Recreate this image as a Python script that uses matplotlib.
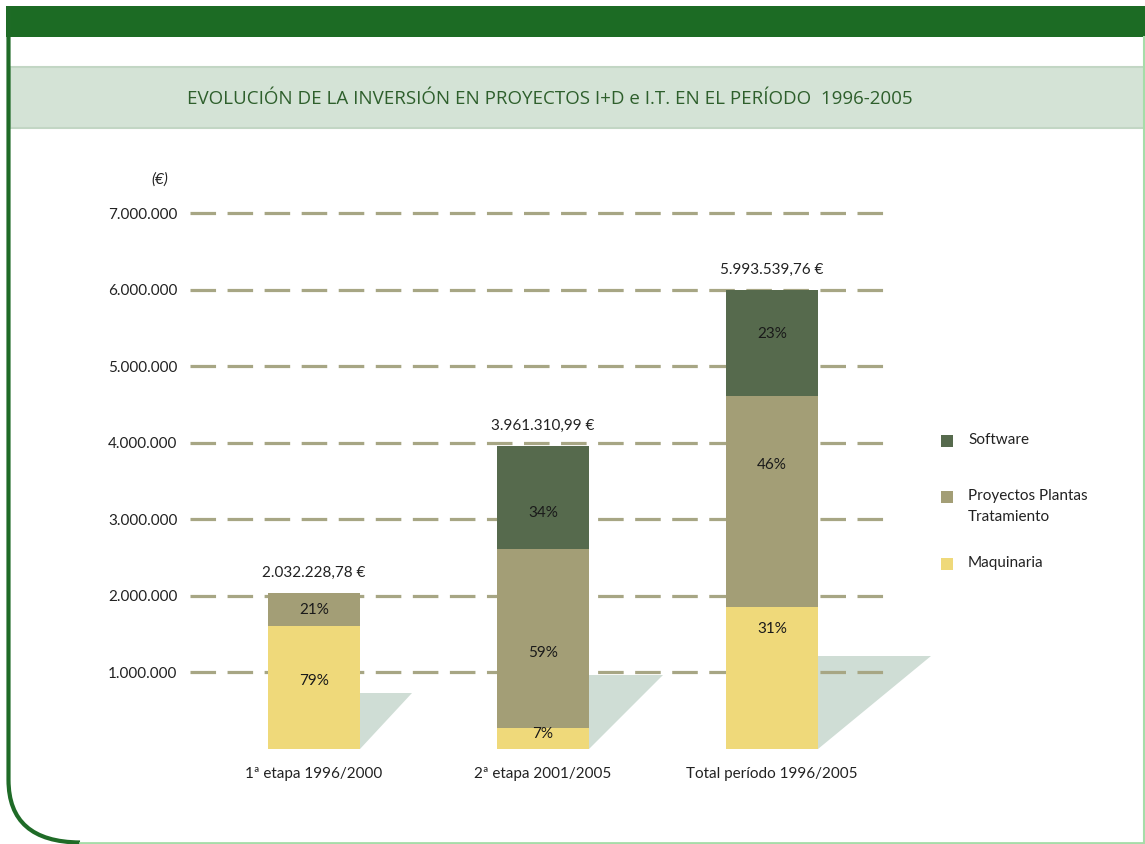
import matplotlib.pyplot as plt
import matplotlib.patches as mpatches
from matplotlib.path import Path
import numpy as np

plt.rcParams["font.family"] = ["Lato", "DejaVu Sans"]

# data
stages = ["1ª etapa 1996/2000", "2ª etapa 2001/2005", "Total período 1996/2005"]
totals = [2032228.78, 3961310.99, 5993539.76]
series = ["Maquinaria", "Proyectos Plantas\nTratamiento", "Software"]
pct_maquinaria = [79, 7, 31]
pct_proyectos = [21, 59, 46]
pct_software = [0, 34, 23]
yticks = [1000000, 2000000, 3000000, 4000000, 5000000, 6000000, 7000000]

colors = ["#efd97a", "#a39e76", "#566a4d"]
# where the % text sits inside each segment (fraction of segment height)
label_pos = [[0.55, 0.49, 0.5], [0.7, 0.42, 0.35], [0.84, 0.67, 0.58]]
# shadow triangle sizes (dx in bar units, top in euros)
shadow = [(0.227, 730000), (0.323, 965000), (0.493, 1215000)]

W, H = 1145, 844
fig = plt.figure(figsize=(W / 100, H / 100), dpi=100)

# frame drawn in pixel coordinates
bg = fig.add_axes([0, 0, 1, 1])
bg.set_xlim(0, W)
bg.set_ylim(H, 0)
bg.axis("off")
bg.add_patch(mpatches.Rectangle((6, 6), W - 6, 31, color="#1c6b24", lw=0))
bg.add_patch(mpatches.Rectangle((10, 67), W - 10, 61, facecolor="#d4e3d6",
                                edgecolor="#c2d6c4", lw=1.5))
verts = [(8.5, 6), (8.5, 780), (8.5, 842), (80, 842.5)]
codes = [Path.MOVETO, Path.LINETO, Path.CURVE3, Path.CURVE3]
bg.add_patch(mpatches.PathPatch(Path(verts, codes), fill=False,
                                edgecolor="#1f6b27", lw=3))
bg.plot([80, W], [842.5, 842.5], color="#a6dca8", lw=2)
bg.plot([W - 1, W - 1], [37, 842], color="#a6dca8", lw=1.5)
bg.text(W / 2 - 23, 99, "EVOLUCIÓN DE LA INVERSIÓN EN PROYECTOS I+D e I.T. EN EL PERÍODO  1996-2005",
        ha="center", va="center", fontsize=13.5, color="#2e5f2c",
        family=["Open Sans", "DejaVu Sans"])

# main chart axes
px_per_m = (749 - 213) / 7.0
ytop = 7500000
ax = fig.add_axes([190 / W, (H - 749) / H, (940 - 190) / W, ytop / 1e6 * px_per_m / H])
xmin = (190 - 314) / 229.0
xgrid = (888 - 314) / 229.0
xmax = (940 - 314) / 229.0
ax.set_xlim(xmin, xmax)
ax.set_ylim(0, ytop)
for s in ax.spines.values():
    s.set_visible(False)
ax.set_xticks([])
ax.set_yticks(yticks)
ax.set_yticklabels(["{:,}".format(v).replace(",", ".") for v in yticks])
ax.tick_params(axis="y", length=0, pad=9, labelsize=11, labelcolor="#222222")

x = np.arange(len(stages))
width = 0.40

# shadows
for i in range(len(stages)):
    xr = x[i] + width / 2
    dx, top = shadow[i]
    ax.add_patch(mpatches.Polygon([(xr, 0), (xr, top), (xr + dx, top)],
                                  closed=True, color="#cfddd5", lw=0, zorder=1))

# gridlines
for v in yticks:
    ax.plot([xmin, xgrid], [v, v], color="#a7a684", lw=2.3,
            dashes=(8, 3.6), zorder=2, solid_capstyle="butt")

# stacked bars
pcts = [pct_maquinaria, pct_proyectos, pct_software]
bottom = np.zeros(len(stages))
for k in range(3):
    vals = np.array(totals) * np.array(pcts[k]) / 100.0
    ax.bar(x, vals, width, bottom=bottom, color=colors[k], zorder=3)
    for i in range(len(stages)):
        if pcts[k][i] > 0:
            ax.text(x[i], bottom[i] + vals[i] * label_pos[i][k], "{}%".format(pcts[k][i]),
                    ha="center", va="center", fontsize=11, color="#1a1a1a", zorder=4)
    bottom += vals

for i in range(len(stages)):
    lab = "{:,.2f}".format(totals[i]).replace(",", "X").replace(".", ",").replace("X", ".")
    ax.annotate(lab + " €", (x[i], totals[i]), xytext=(0, 9.5), textcoords="offset points",
                ha="center", va="bottom", fontsize=11, color="#222222")
    ax.annotate(stages[i], (x[i], 0), xytext=(0, -18), textcoords="offset points",
                ha="center", va="center", fontsize=11, color="#222222")

ax.text(-0.04, ytop - 60000, "(€)", transform=ax.get_yaxis_transform(), ha="center",
        va="center", fontsize=11, style="italic", color="#222222")

# legend (manual, top to bottom)
leg_y = [441, 497, 564]
for j, k in enumerate([2, 1, 0]):
    bg.add_patch(mpatches.Rectangle((941, leg_y[j] - 6), 12, 12, color=colors[k], lw=0))
    bg.text(968, leg_y[j] - 8, series[k], ha="left", va="top", fontsize=11,
            color="#222222", linespacing=1.6)

fig.savefig("out.png", dpi=100)
